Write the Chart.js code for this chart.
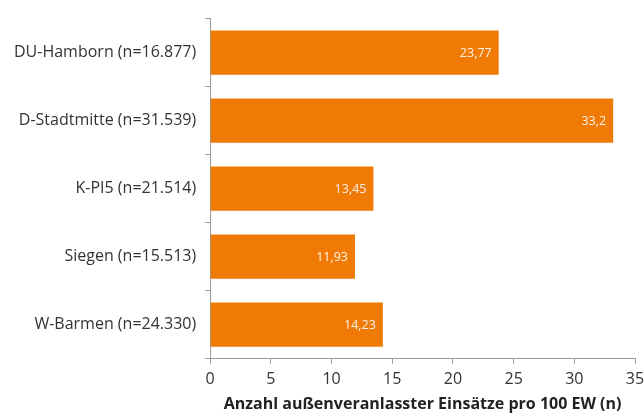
<!DOCTYPE html>
<html>
<head>
<meta charset="utf-8">
<script src="https://cdn.jsdelivr.net/npm/chart.js@4"></script>
<style>
  html, body { margin: 0; padding: 0; background: #fff; }
  #wrap { width: 644px; height: 414px; position: relative; }
</style>
</head>
<body>
<div id="wrap"><canvas id="chart"></canvas></div>
<script>
// categories + values
const labels = [
  'DU-Hamborn (n=16.877)',
  'D-Stadtmitte (n=31.539)',
  'K-PI5 (n=21.514)',
  'Siegen (n=15.513)',
  'W-Barmen (n=24.330)'
];
const values = [23.77, 33.2, 13.45, 11.93, 14.23];
const xTicks = [0, 5, 10, 15, 20, 25, 30, 35];
const xTitle = 'Anzahl außenveranlasster Einsätze pro 100 EW (n)';

const ORANGE = '#F07A06';
const AXIS = '#9a9a9a';
const FONT = '"Open Sans", "DejaVu Sans", sans-serif';

/* white value labels inside bar ends */
const valueLabels = {
  id: 'valueLabels',
  afterDatasetsDraw(chart) {
    const { ctx } = chart;
    const meta = chart.getDatasetMeta(0);
    ctx.save();
    ctx.font = '12.5px ' + FONT;
    ctx.fillStyle = 'rgba(255,255,255,0.9)';
    ctx.textAlign = 'right';
    ctx.textBaseline = 'middle';
    meta.data.forEach((bar, i) => {
      const txt = String(values[i]).replace('.', ',');
      ctx.fillText(txt, bar.x - 7, bar.y + 1);
    });
    ctx.restore();
  }
};

new Chart(document.getElementById('chart'), {
  type: 'bar',
  data: {
    labels,
    datasets: [{
      data: values,
      backgroundColor: ORANGE,
      borderWidth: 0,
      categoryPercentage: 1,
      barPercentage: 0.65
    }]
  },
  options: {
    indexAxis: 'y',
    responsive: true,
    maintainAspectRatio: false,
    animation: false,
    layout: { padding: { top: 16, right: 0, left: 5, bottom: 0 } },
    plugins: {
      legend: { display: false },
      tooltip: { enabled: false }
    },
    scales: {
      x: {
        min: 0, max: 35,
        afterBuildTicks: axis => { axis.ticks = xTicks.map(v => ({ value: v })); },
        afterFit: axis => { axis.paddingRight = 9; },
        grid: { drawOnChartArea: false, drawTicks: true, tickLength: 5, color: AXIS },
        border: { color: AXIS, width: 1 },
        ticks: { color: '#333', font: { family: FONT, size: 16 }, padding: 6 },
        title: {
          display: true, text: xTitle, color: '#222',
          font: { family: FONT, size: 16, weight: 'bold' },
          padding: { top: 0, bottom: 0 }
        }
      },
      y: {
        grid: { drawOnChartArea: false, drawTicks: true, tickLength: 5, color: AXIS, offset: true },
        border: { color: AXIS, width: 1 },
        ticks: { color: '#333', font: { family: FONT, size: 16 }, padding: 9 }
      }
    }
  },
  plugins: [valueLabels]
});
</script>
</body>
</html>
